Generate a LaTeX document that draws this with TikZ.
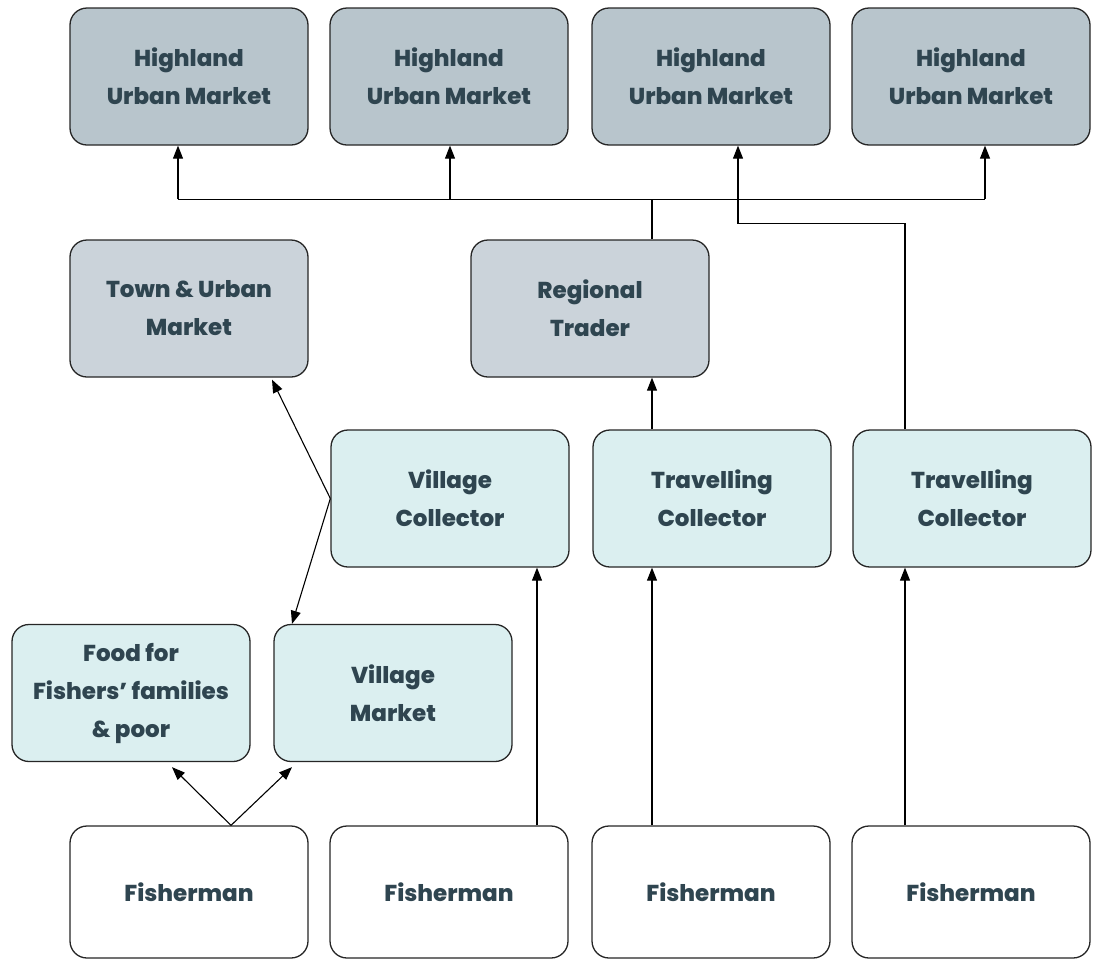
\documentclass[tikz,border=0pt]{standalone}
\usepackage{fontspec}
\setmainfont{Poppins}[BoldFont={Poppins ExtraBold}]
\usetikzlibrary{arrows.meta,calc}
\definecolor{txt}{RGB}{47,69,80}
\definecolor{hilfill}{RGB}{184,197,204}
\definecolor{midfill}{RGB}{203,211,218}
\definecolor{lowfill}{RGB}{219,239,240}
\tikzset{
  box/.style={draw=black!85, line width=1.3pt, rounded corners=17pt,
    minimum width=238pt, minimum height=137pt, inner sep=0pt,
    align=center, text=txt, font=\fontsize{23}{38}\selectfont\bfseries},
  hibox/.style={box, fill=hilfill},
  midbox/.style={box, fill=midfill},
  lowbox/.style={box, fill=lowfill},
  fishbox/.style={box, fill=white, minimum height=132pt},
  link/.style={draw=black, line width=1.1pt},
  arr/.style={link, -{Triangle[length=13pt,width=10pt]}}
}
\begin{document}
\begin{tikzpicture}[x=1pt,y=1pt]
\useasboundingbox (0,0) rectangle (1098,-959);
% top row: highland markets
\node[hibox] (h1) at (189,-76.5) {Highland\\Urban Market};
\node[hibox] (h2) at (449,-76.5) {Highland\\Urban Market};
\node[hibox] (h3) at (711,-76.5) {Highland\\Urban Market};
\node[hibox] (h4) at (971,-76.5) {Highland\\Urban Market};
% second row
\node[midbox] (town) at (189,-308.5) {Town \& Urban\\Market};
\node[midbox] (reg) at (590,-308.5) {Regional\\Trader};
% collectors
\node[lowbox] (vc) at (450,-498.5) {Village\\Collector};
\node[lowbox] (tc1) at (712,-498.5) {Travelling\\Collector};
\node[lowbox] (tc2) at (972,-498.5) {Travelling\\Collector};
% local outlets
\node[lowbox] (food) at (131,-693) {Food for\\Fishers’ families\\\& poor};
\node[lowbox] (vm) at (393,-693) {Village\\Market};
% fishermen
\node[fishbox] (f1) at (189,-892) {Fisherman};
\node[fishbox] (f2) at (449,-892) {Fisherman};
\node[fishbox] (f3) at (711,-892) {Fisherman};
\node[fishbox] (f4) at (971,-892) {Fisherman};

% regional trader to highland markets
\coordinate (rt) at ([xshift=62pt]reg.north);
\coordinate (bus) at ($(rt)+(0,40)$);
\draw[link] (rt) -- (bus);
\draw[link] ([xshift=-11pt]h1.south |- bus) -- ([xshift=14pt]h4.south |- bus);
\draw[arr] ([xshift=-11pt]h1.south |- bus) -- ([xshift=-11pt]h1.south);
\draw[arr] ([xshift=1pt]h2.south |- bus) -- ([xshift=1pt]h2.south);
\draw[arr] ([xshift=14pt]h4.south |- bus) -- ([xshift=14pt]h4.south);
% travelling collector straight to highland market
\coordinate (t2top) at ([xshift=-67pt]tc2.north);
\coordinate (jog) at ($(t2top)+(0,206)$);
\draw[arr] (t2top) -- (jog) -| ([xshift=27pt]h3.south);
% travelling collector to regional trader
\draw[arr] ([xshift=-60pt]tc1.north) -- ([xshift=-60pt]tc1.north |- reg.south);
% fishermen to collectors
\draw[arr] ([xshift=88pt]f2.north) -- ([xshift=88pt]f2.north |- vc.south);
\draw[arr] ([xshift=-59pt]f3.north) -- ([xshift=-59pt]f3.north |- tc1.south);
\draw[arr] ([xshift=-66pt]f4.north) -- ([xshift=-66pt]f4.north |- tc2.south);
% fisherman to local outlets
\coordinate (f1top) at ([xshift=42pt]f1.north);
\draw[arr] (f1top) -- ($([xshift=41pt]food.south)+(0,-5)$);
\draw[arr] (f1top) -- ($([xshift=-101pt]vm.south)+(0,-5)$);
% village collector to markets
\draw[arr] (vc.west) -- ($([xshift=83pt]town.south)+(0,-2)$);
\draw[arr] (vc.west) -- ([xshift=-101pt]vm.north);
\end{tikzpicture}
\end{document}
